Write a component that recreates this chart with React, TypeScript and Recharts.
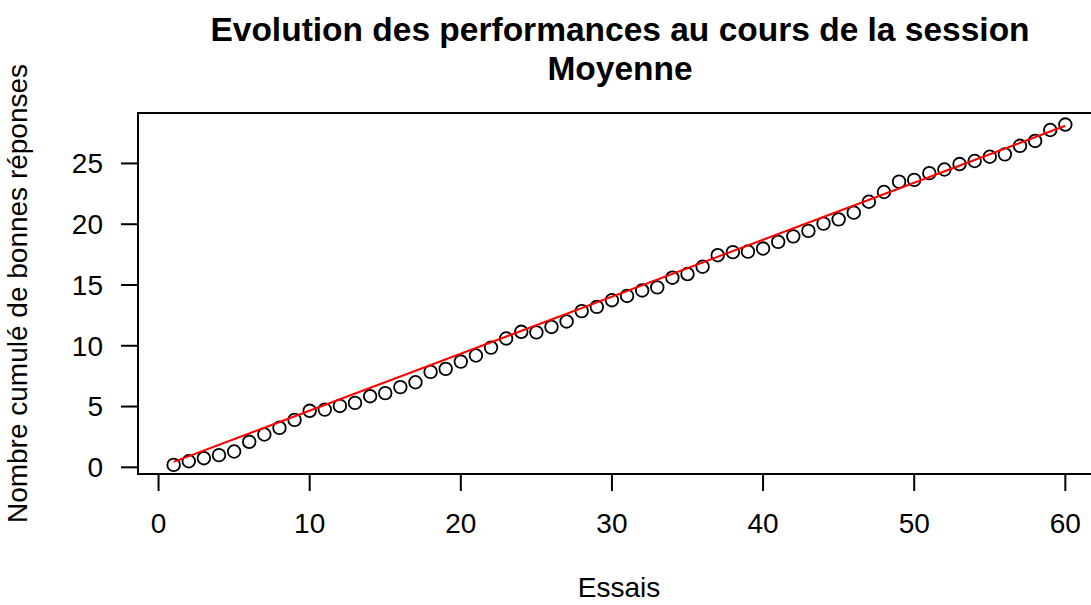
import React from 'react';
import { ComposedChart, Scatter, XAxis, YAxis, ReferenceArea } from 'recharts';

// essais (x) et nombre cumulé moyen de bonnes réponses (y)
const trials = [
  1, 2, 3, 4, 5, 6, 7, 8, 9, 10, 11, 12, 13, 14, 15, 16, 17, 18, 19, 20,
  21, 22, 23, 24, 25, 26, 27, 28, 29, 30, 31, 32, 33, 34, 35, 36, 37, 38, 39, 40,
  41, 42, 43, 44, 45, 46, 47, 48, 49, 50, 51, 52, 53, 54, 55, 56, 57, 58, 59, 60,
];
const cumulativeScores = [
  0.2, 0.5, 0.75, 1.0, 1.3, 2.1, 2.7, 3.25, 3.9, 4.65,
  4.75, 5.05, 5.3, 5.85, 6.1, 6.6, 7.0, 7.85, 8.1, 8.7,
  9.2, 9.85, 10.6, 11.15, 11.1, 11.55, 12.0, 12.85, 13.2, 13.75,
  14.1, 14.55, 14.8, 15.6, 15.9, 16.5, 17.45, 17.7, 17.75, 18.0,
  18.55, 19.0, 19.45, 20.05, 20.4, 20.95, 21.85, 22.65, 23.5, 23.65,
  24.2, 24.5, 24.95, 25.2, 25.55, 25.75, 26.45, 26.85, 27.75, 28.2,
];

// droite de tendance (rouge), extrémités
const fitTrials = [1, 60];
const fitScores = [0.45, 28.1];

const xTicks = [0, 10, 20, 30, 40, 50, 60];
const yTicks = [0, 5, 10, 15, 20, 25];

const points = trials.map((t, i) => ({ essai: t, score: cumulativeScores[i] }));
const fitLine = fitTrials.map((t, i) => ({ essai: t, score: fitScores[i] }));

const X_DOMAIN: [number, number] = [-1.36, 62.36];
const Y_DOMAIN: [number, number] = [-0.55, 29.15];

const FONT = '"Liberation Sans", Arial, Helvetica, sans-serif';
const LABEL_SIZE = 28;

const OpenCircle = (props: any) => (
  <circle cx={props.cx} cy={props.cy} r={6.3} fill="none" stroke="#000" strokeWidth={1.8} />
);

export default function App() {
  return (
    <div
      style={{
        position: 'absolute',
        left: 0,
        top: 0,
        width: 1091,
        height: 605,
        overflow: 'hidden',
        background: '#fff',
        fontFamily: FONT,
      }}
    >
      <ComposedChart
        width={1111}
        height={605}
        data={points}
        margin={{ top: 113, right: 10, bottom: 71, left: 78 }}
      >
        <XAxis
          type="number"
          dataKey="essai"
          domain={X_DOMAIN}
          ticks={xTicks}
          allowDataOverflow
          height={60}
          axisLine={{ stroke: '#000', strokeWidth: 2 }}
          tickLine={{ stroke: '#000', strokeWidth: 2 }}
          tickSize={17}
          tickMargin={22}
          tick={{ fill: '#000', fontSize: LABEL_SIZE, fontFamily: FONT }}
        />
        <YAxis
          type="number"
          dataKey="score"
          domain={Y_DOMAIN}
          ticks={yTicks}
          allowDataOverflow
          width={60}
          axisLine={{ stroke: '#000', strokeWidth: 2 }}
          tickLine={{ stroke: '#000', strokeWidth: 2 }}
          tickSize={17}
          tickMargin={18}
          tick={{ fill: '#000', fontSize: LABEL_SIZE, fontFamily: FONT }}
        />
        <ReferenceArea
          x1={X_DOMAIN[0]}
          x2={X_DOMAIN[1]}
          y1={Y_DOMAIN[0]}
          y2={Y_DOMAIN[1]}
          fill="none"
          stroke="#000"
          strokeWidth={2}
        />
        <Scatter data={points} dataKey="score" shape={OpenCircle} isAnimationActive={false} />
        <Scatter
          data={fitLine}
          dataKey="score"
          line={{ stroke: '#ff0000', strokeWidth: 2 }}
          shape={() => <g />}
          isAnimationActive={false}
        />
      </ComposedChart>

      <svg
        width={1091}
        height={605}
        style={{ position: 'absolute', left: 0, top: 0, pointerEvents: 'none' }}
      >
        <g fontFamily={FONT} fill="#000">
          <text x={620} y={41} fontSize={33.5} fontWeight="bold" textAnchor="middle">
            Evolution des performances au cours de la session
          </text>
          <text x={620} y={80} fontSize={33.5} fontWeight="bold" textAnchor="middle">
            Moyenne
          </text>
          <text x={619} y={597} fontSize={LABEL_SIZE} textAnchor="middle">
            Essais
          </text>
          <text
            x={27}
            y={293.5}
            fontSize={LABEL_SIZE}
            textAnchor="middle"
            transform="rotate(-90 27 293.5)"
          >
            Nombre cumulé de bonnes réponses
          </text>
        </g>
      </svg>
    </div>
  );
}
